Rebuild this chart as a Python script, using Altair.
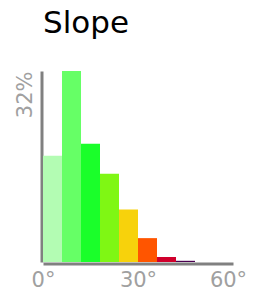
import altair as alt
import pandas as pd

bin_start = [0, 6, 12, 18, 24, 30, 36, 42]
bin_end = [6, 12, 18, 24, 30, 36, 42, 48]
percent = [17.8, 32.0, 19.8, 14.8, 8.8, 4.0, 0.84, 0.2]
colors = ["#b3fcb3", "#66ff66", "#1aff2a", "#7ff714", "#f7d20c", "#ff5500", "#d0002c", "#4a0050"]
labels = [f"{a}-{b}" for a, b in zip(bin_start, bin_end)]

df = pd.DataFrame({"start": bin_start, "end": bin_end, "pct": percent, "bin": labels})

chart = alt.Chart(df).mark_rect().encode(
    x=alt.X("start:Q", scale=alt.Scale(domain=[0, 60], nice=False, zero=False),
            axis=alt.Axis(values=[0, 30, 60], labelExpr="datum.value + '°'", title=None,
                          ticks=False, grid=False, domainColor="#808080", domainWidth=3,
                          labelColor="#a0a0a0", labelFontSize=21, labelFont="DejaVu Sans",
                          labelPadding=6, labelFlush=False, offset=1.5,
                          labelOffset=alt.ConditionalAxisNumber(
                              condition={"test": "datum.value == 60", "value": -5}, value=0))),
    x2="end:Q",
    y=alt.Y("pct:Q", scale=alt.Scale(domain=[0, 32], nice=False),
            axis=alt.Axis(values=[32], labelExpr="datum.value + '%'", title=None,
                          ticks=False, grid=False, domainColor="#808080", domainWidth=3,
                          labelColor="#a0a0a0", labelFontSize=21, labelFont="DejaVu Sans",
                          labelAngle=-90, labelAlign="right", labelBaseline="alphabetic",
                          labelPadding=10.5, labelOffset=0, labelFlush=False, offset=1.5)),
    y2=alt.datum(0),
    color=alt.Color("bin:N", scale=alt.Scale(domain=labels, range=colors), legend=None),
).properties(
    width=190,
    height=191,
    title=alt.TitleParams("Slope", anchor="start", frame="group", fontSize=31, font="DejaVu Sans",
                          fontWeight="normal", color="#000000", baseline="alphabetic", offset=7),
    autosize=alt.AutoSizeParams(type="none"),
    padding={"left": 35, "top": 63, "right": 15, "bottom": 27},
).configure_view(stroke=None)

chart.save("out.html", embed_options={"renderer": "svg", "actions": False})
